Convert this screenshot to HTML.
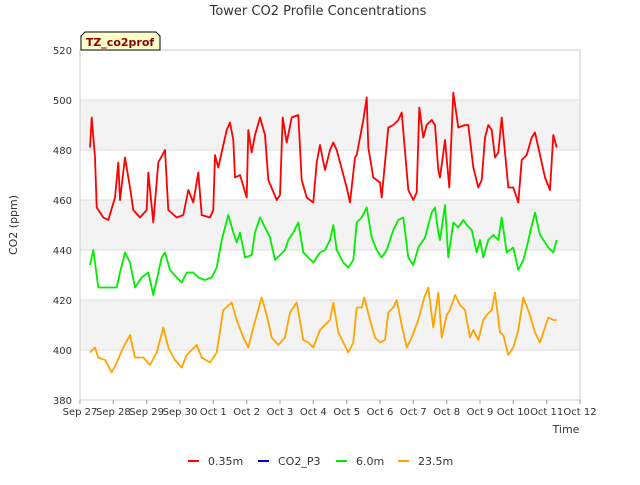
<!DOCTYPE html>
<html><head><meta charset="utf-8"><style>
body{margin:0;background:#fff;}
svg text{font-family:"DejaVu Sans","Liberation Sans",sans-serif;}
</style></head><body>
<svg id="chart" width="640" height="480" viewBox="0 0 640 480" xmlns="http://www.w3.org/2000/svg">
<g id="bands"></g>
<g id="grid"></g>
<rect x="80" y="50" width="500" height="350" fill="none" stroke="#ccc" stroke-width="1"/>
<g id="series"></g>
<g id="axes"></g>
<text x="318" y="15" text-anchor="middle" font-size="13" fill="#333">Tower CO2 Profile Concentrations</text>
<text transform="translate(17,225) rotate(-90)" text-anchor="middle" font-size="11" fill="#333">CO2 (ppm)</text>
<text x="566" y="433" text-anchor="middle" font-size="11" fill="#333">Time</text>
<g>
<path d="M81,50 L81,36 L85,32 L156,32 L160,36 L160,50 Z" fill="#ffffcc" stroke="#000" stroke-width="1"/>
<text x="120" y="46" text-anchor="middle" font-size="11" font-weight="bold" fill="#8b0000">TZ_co2prof</text>
</g>
<g id="legend"></g>
</svg>
<script>
const yTicks=[380,400,420,440,460,480,500,520];
const xTickLabels=["Sep 27","Sep 28","Sep 29","Sep 30","Oct 1","Oct 2","Oct 3","Oct 4","Oct 5","Oct 6","Oct 7","Oct 8","Oct 9","Oct 10","Oct 11","Oct 12"];
const seriesNames=["0.35m","CO2_P3","6.0m","23.5m"];
const seriesColors=["#ff0000","#0000cc","#00ee00","#ffa500"];
// times in days since Sep 27 00:00
const redT=[0.30,0.35,0.45,0.50,0.70,0.85,1.05,1.15,1.20,1.35,1.50,1.60,1.80,2.00,2.05,2.20,2.35,2.55,2.65,2.90,3.10,3.25,3.40,3.55,3.65,3.90,4.00,4.05,4.15,4.40,4.50,4.60,4.65,4.80,5.00,5.05,5.15,5.25,5.40,5.55,5.65,5.90,6.00,6.08,6.20,6.35,6.55,6.65,6.80,7.00,7.10,7.20,7.35,7.50,7.60,7.70,8.00,8.10,8.25,8.30,8.40,8.50,8.60,8.65,8.80,9.00,9.05,9.25,9.40,9.55,9.65,9.85,10.00,10.10,10.18,10.30,10.40,10.55,10.65,10.75,10.80,10.95,11.08,11.20,11.35,11.55,11.65,11.80,11.95,12.05,12.15,12.25,12.35,12.45,12.55,12.65,12.85,13.00,13.15,13.25,13.40,13.55,13.65,13.95,14.10,14.20,14.30];
const redV=[481,493,477,457,453,452,461,475,460,477,465,456,453,456,471,451,475,480,456,453,454,464,459,471,454,453,456,478,473,488,491,484,469,470,461,488,479,486,493,486,468,460,462,493,483,493,494,468,461,459,475,482,472,480,483,480,465,459,477,478,485,492,501,481,469,467,461,489,490,492,495,464,460,463,497,485,490,492,490,472,469,484,465,503,489,490,490,473,465,468,485,490,488,477,479,493,465,465,459,476,478,485,487,469,464,486,481,480];
const greenT=[0.30,0.40,0.55,0.80,1.10,1.20,1.35,1.50,1.65,1.85,2.05,2.20,2.45,2.55,2.70,2.90,3.05,3.20,3.40,3.55,3.75,3.95,4.10,4.25,4.45,4.60,4.70,4.80,4.95,5.15,5.25,5.40,5.55,5.70,5.85,6.00,6.15,6.25,6.40,6.55,6.70,6.85,7.00,7.20,7.35,7.50,7.60,7.70,7.90,8.05,8.20,8.30,8.45,8.60,8.75,8.90,9.05,9.20,9.40,9.55,9.70,9.85,10.00,10.15,10.35,10.55,10.65,10.75,10.80,10.95,11.05,11.20,11.35,11.50,11.60,11.75,11.90,12.00,12.10,12.25,12.40,12.55,12.65,12.80,13.00,13.15,13.30,13.40,13.52,13.65,13.80,14.05,14.20,14.30];
const greenV=[434,440,425,425,425,431,439,435,425,429,431,422,437,439,432,429,427,431,431,429,428,429,433,444,454,447,443,447,437,438,447,453,449,445,436,438,440,444,447,451,439,437,435,439,440,444,450,440,435,433,436,451,453,457,445,440,437,440,448,452,453,437,434,441,445,455,457,447,444,458,437,451,449,452,450,448,439,444,437,444,446,444,453,439,441,432,436,441,448,455,446,441,439,444,444];
const orangeT=[0.30,0.45,0.55,0.75,0.95,1.10,1.30,1.50,1.65,1.90,2.10,2.30,2.50,2.65,2.85,3.05,3.20,3.50,3.65,3.90,4.10,4.30,4.55,4.70,4.90,5.05,5.20,5.45,5.60,5.75,5.95,6.15,6.30,6.50,6.70,6.85,7.00,7.20,7.50,7.60,7.75,7.90,8.05,8.20,8.30,8.45,8.53,8.70,8.85,9.00,9.15,9.25,9.40,9.50,9.65,9.80,9.95,10.15,10.33,10.45,10.55,10.60,10.75,10.85,11.00,11.10,11.25,11.40,11.55,11.70,11.80,11.95,12.10,12.20,12.35,12.45,12.60,12.70,12.85,13.00,13.15,13.30,13.50,13.65,13.80,14.05,14.20,14.30];
const orangeV=[399,401,397,396,391,395,401,406,397,397,394,399,409,401,396,393,398,402,397,395,399,416,419,412,405,401,409,421,414,405,402,405,415,419,404,403,401,408,412,419,407,403,399,403,417,417,421,412,405,403,404,415,417,420,410,401,405,412,421,425,414,409,423,405,414,416,422,418,416,405,408,404,412,414,416,423,407,406,398,401,408,421,414,407,403,413,412,412];
const X0=80,X1=580,Y0=400,Y1=50;
function xs(d){return X0+(d/15)*(X1-X0);}
function ys(v){return Y0-(v-380)/140*(Y0-Y1);}
const NS="http://www.w3.org/2000/svg";
function mk(tag,attrs,parent){const e=document.createElementNS(NS,tag);for(const k in attrs)e.setAttribute(k,attrs[k]);parent.appendChild(e);return e;}
const bands=document.getElementById('bands'),grid=document.getElementById('grid'),axes=document.getElementById('axes'),series=document.getElementById('series'),legend=document.getElementById('legend');
[[400,420],[440,460],[480,500]].forEach(b=>{
  const r=mk('rect',{x:X0,y:ys(b[1]),width:X1-X0,height:ys(b[0])-ys(b[1]),fill:'#f3f3f3'},bands);
  
  
});
yTicks.forEach(v=>{
  const l=mk('line',{x1:X0,x2:X1,y1:ys(v),y2:ys(v),stroke:'#ddd','stroke-width':1},grid);
  
  
  const t=mk('text',{x:X0-8,y:ys(v)+4,'text-anchor':'end','font-size':10,fill:'#333'},axes);
  t.textContent=v;
  
  
});
xTickLabels.forEach((lab,i)=>{
  const tk=mk('line',{x1:xs(i),x2:xs(i),y1:Y0,y2:Y0+4,stroke:'#999'},axes);
  
  
  const t=mk('text',{x:xs(i),y:Y0+15,'text-anchor':'middle','font-size':10,fill:'#333'},axes);
  t.textContent=lab;
  
  
});
function drawLine(T,V,color,name){
  const d=T.map((t,i)=>(i?'L':'M')+xs(t).toFixed(1)+','+ys(V[i]).toFixed(1)).join(' ');
  const p=mk('path',{d:d,fill:'none',stroke:color,'stroke-width':1.8,'stroke-linejoin':'round'},series);
  
  
}
drawLine(redT,redV,seriesColors[0],'series-0-35m');
drawLine(greenT,greenV,seriesColors[2],'series-6-0m');
drawLine(orangeT,orangeV,seriesColors[3],'series-23-5m');
const legX=[188,258,336,398];
seriesNames.forEach((n,i)=>{
  const g=mk('g',{},legend);
  
  
  mk('line',{x1:legX[i],x2:legX[i]+11,y1:461,y2:461,stroke:seriesColors[i],'stroke-width':2},g);
  const t=mk('text',{x:legX[i]+20,y:465,'font-size':11,fill:'#333'},g);
  t.textContent=n;
});
</script>
</body></html>
